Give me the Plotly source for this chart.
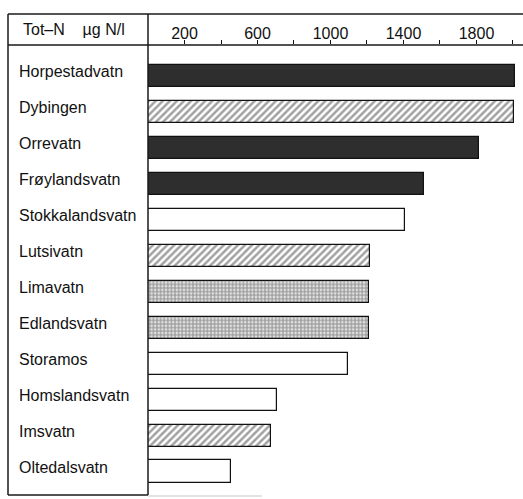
import plotly.graph_objects as go

lakes = ["Horpestadvatn", "Dybingen", "Orrevatn", "Frøylandsvatn", "Stokkalandsvatn",
         "Lutsivatn", "Limavatn", "Edlandsvatn", "Storamos", "Homslandsvatn",
         "Imsvatn", "Oltedalsvatn"]
tot_n = [2010, 2005, 1815, 1515, 1410, 1215, 1210, 1210, 1095, 705, 675, 455]
fill_type = ["solid", "hatch", "solid", "solid", "open", "hatch", "dots", "dots",
             "open", "open", "hatch", "open"]
tick_values = [200, 400, 600, 800, 1000, 1200, 1400, 1600, 1800, 2000]
tick_labels = ["200", "", "600", "", "1000", "", "1400", "", "1800", ""]
header_text = "Tot–N&nbsp;&nbsp;&nbsp;&nbsp;µg N/l"

style = {
    "solid": dict(color="#2e2e2e", shape="", fg="#2e2e2e", size=6, sol=0.3),
    "hatch": dict(color="white", shape="/", fg="#000000", size=5, sol=0.5),
    "dots": dict(color="white", shape=".", fg="#000000", size=3.6, sol=0.75),
    "open": dict(color="white", shape="", fg="#111111", size=6, sol=0.3),
}

W, H = 523, 499
ML, MR, MT, MB = 148, 4, 45, 4
pw = W - ML - MR
ph = H - MT - MB

def px(x):
    return (x - ML) / pw

def py(y):
    return (H - MB - y) / ph

ypos = list(range(len(lakes)))
fig = go.Figure(go.Bar(
    x=tot_n, y=ypos, orientation="h", width=0.62,
    marker=dict(
        color=[style[f]["color"] for f in fill_type],
        line=dict(color="#111111", width=1.2),
        pattern=dict(
            shape=[style[f]["shape"] for f in fill_type],
            fgcolor=[style[f]["fg"] for f in fill_type],
            bgcolor="white",
            size=[style[f]["size"] for f in fill_type],
            solidity=[style[f]["sol"] for f in fill_type],
            fillmode="overlay",
        ),
    ),
    hoverinfo="skip",
))

font = dict(family="Liberation Sans, Arial, sans-serif", size=16, color="#111111")

annotations = []
for i, name in enumerate(lakes):
    annotations.append(dict(
        text=name, xref="paper", yref="y", x=px(17), y=i, xanchor="left",
        yanchor="middle", yshift=4, showarrow=False, font=font))
annotations.append(dict(
    text=header_text, xref="paper", yref="paper", x=px(21), y=py(30),
    xanchor="left", yanchor="middle", showarrow=False, font=font))

line = dict(color="#1a1a1a", width=1.5)
shapes = [
    dict(type="line", xref="paper", yref="paper", x0=px(8), x1=px(523), y0=py(14), y1=py(14), line=line),
    dict(type="line", xref="paper", yref="paper", x0=px(8), x1=px(523), y0=py(45), y1=py(45), line=line),
    dict(type="line", xref="paper", yref="paper", x0=px(8), x1=px(8), y0=py(495), y1=py(14), line=line),
    dict(type="line", xref="paper", yref="paper", x0=0, x1=0, y0=py(495), y1=py(14), line=line),
    dict(type="line", xref="paper", yref="paper", x0=px(8), x1=0, y0=py(495), y1=py(495), line=line),
    dict(type="line", xref="paper", yref="paper", x0=0, x1=px(262), y0=py(496), y1=py(496),
         line=dict(color="#c8c8c8", width=1.2)),
]

fig.update_layout(
    width=W, height=H,
    margin=dict(l=ML, r=MR, t=MT, b=MB, pad=0),
    paper_bgcolor="white", plot_bgcolor="white",
    showlegend=False,
    xaxis=dict(side="top", range=[0, 2033], tickvals=tick_values, ticktext=tick_labels,
               ticks="outside", ticklen=4, tickwidth=1, tickcolor="#111111",
               showgrid=False, zeroline=False, showline=False, tickfont=font,
               ticklabelstandoff=-5, fixedrange=True),
    yaxis=dict(range=[11.65, -0.86], showticklabels=False, showgrid=False,
               zeroline=False, showline=False, ticks="", fixedrange=True),
    annotations=annotations,
    shapes=shapes,
    bargap=0,
)

fig.write_html("out.html", config={"displayModeBar": False},
               post_script="document.body.style.margin='0';document.body.style.overflow='hidden';")
